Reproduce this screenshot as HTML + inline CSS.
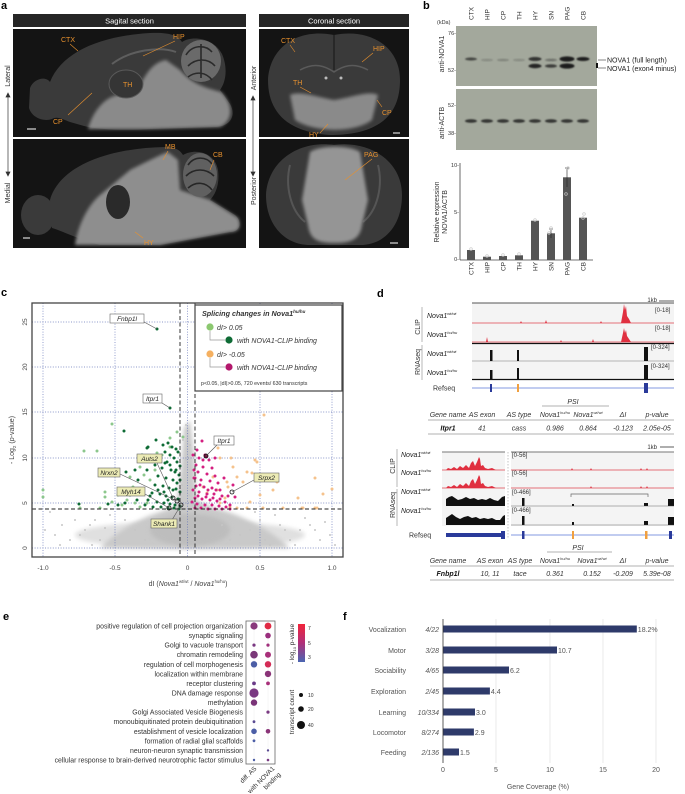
<!DOCTYPE html>
<html><head><meta charset="utf-8"><style>
html,body{margin:0;padding:0;background:#fff;}
svg{display:block;font-family:"Liberation Sans",Arial,sans-serif;}
</style></head><body>
<svg width="685" height="794" viewBox="0 0 685 794" xmlns="http://www.w3.org/2000/svg">
<defs>
<filter id="bl1" x="-50%" y="-50%" width="200%" height="200%"><feGaussianBlur stdDeviation="0.8"/></filter>
<filter id="bl2" x="-20%" y="-20%" width="140%" height="140%"><feGaussianBlur stdDeviation="2"/></filter>
<filter id="bl3" x="-20%" y="-20%" width="140%" height="140%"><feGaussianBlur stdDeviation="1.5"/></filter>
<linearGradient id="cb" x1="0" y1="0" x2="0" y2="1"><stop offset="0" stop-color="#f2243a"/><stop offset="0.5" stop-color="#b0307a"/><stop offset="1" stop-color="#4a66b2"/></linearGradient>
</defs>

<!-- ================= PANEL A ================= -->
<text x="1" y="9" font-size="11" font-weight="bold">a</text>
<rect x="13" y="14" width="233" height="13" fill="#262626"/>
<text x="129.5" y="23.5" font-size="7.5" fill="#fff" text-anchor="middle">Sagital section</text>
<rect x="259" y="14" width="150" height="13" fill="#262626"/>
<text x="334" y="23.5" font-size="7.5" fill="#fff" text-anchor="middle">Coronal section</text>
<rect x="13" y="29" width="233" height="108" fill="#141414"/>
<rect x="13" y="139" width="233" height="109" fill="#141414"/>
<rect x="259" y="29" width="150" height="108" fill="#141414"/>
<rect x="259" y="139" width="150" height="109" fill="#141414"/>

<!-- sagittal top -->
<path d="M30,88 C34,78 46,76 50,82 C62,52 100,36 150,33 C168,32 178,35 182,42 C192,35 214,38 222,54 C228,68 226,82 220,90 L230,104 C236,114 232,126 216,127 L150,129 C120,131 95,129 84,126 L70,122 C62,119 57,116 52,119 C44,122 32,118 29,108 Z" fill="#3a3a3a"/>
<path d="M88,129 C92,114 102,100 114,96 L138,90 C146,72 154,62 166,60 L180,70 C192,84 206,88 221,92 C233,104 234,120 220,127 L150,129 Z" fill="#8a8a8a" filter="url(#bl3)"/>
<ellipse cx="126" cy="84" rx="17" ry="14" fill="#353535" stroke="#5a5a5a" stroke-width="1"/>
<path d="M112,64 C130,50 160,46 176,52" stroke="#5e5e5e" fill="none" stroke-width="2"/>
<ellipse cx="201" cy="61" rx="20" ry="21" fill="#6a6a6a"/>
<path d="M186,55 C192,45 205,44 212,52 M188,66 C196,58 208,58 215,66 M188,77 C196,71 206,72 212,80 M201,44 L201,78" stroke="#2a2a2a" stroke-width="1.6" fill="none"/>
<!-- sagittal bottom -->
<ellipse cx="38" cy="215" rx="17" ry="20" fill="#3a3a3a"/>
<path d="M50,200 C60,165 110,148 165,147 C175,147 180,150 183,155 C195,148 215,152 218,170 C220,185 215,195 210,200 L235,215 C243,222 240,232 230,232 L160,245 L100,245 C80,240 65,232 52,228 Z" fill="#3a3a3a"/>
<path d="M75,245 C78,225 88,205 100,195 L130,170 C150,160 160,155 168,152 L178,160 L180,190 L210,200 L238,218 C242,228 238,232 230,232 L160,245 Z" fill="#8e8e8e" filter="url(#bl3)"/>
<ellipse cx="118" cy="202" rx="12" ry="17" fill="#2a2a2a"/>
<ellipse cx="200" cy="175" rx="17" ry="22" fill="#606060"/>
<path d="M188,165 C194,156 206,156 212,164 M186,176 C194,168 206,168 214,176 M188,188 C196,181 206,182 212,190" stroke="#262626" stroke-width="1.6" fill="none"/>
<!-- coronal top -->
<path d="M334,35 C300,28 270,45 268,80 C268,110 285,132 330,135 C385,135 400,110 400,80 C400,45 368,28 334,35 Z" fill="#3a3a3a"/>
<path d="M290,95 C300,90 320,98 334,100 C350,98 368,90 378,95 L372,120 C355,133 315,133 295,120 Z" fill="#8a8a8a" filter="url(#bl3)"/>
<path d="M300,70 C315,62 325,66 334,72 C343,66 353,62 368,70" stroke="#5a5a5a" stroke-width="1.5" fill="none"/>
<path d="M334,35 L334,70" stroke="#222" stroke-width="1.5"/>
<circle cx="326" cy="78" r="1.5" fill="#bbb"/><circle cx="341" cy="78" r="1.5" fill="#bbb"/>
<!-- coronal bottom -->
<path d="M334,145 C300,140 268,160 266,195 C266,225 285,245 310,245 L360,245 C385,245 402,225 402,195 C402,160 368,140 334,145 Z" fill="#3a3a3a"/>
<path d="M290,165 C285,185 290,210 305,222 M378,165 C383,185 378,210 363,222" stroke="#555" stroke-width="2" fill="none"/>
<path d="M310,152 C320,145 350,145 360,152 L368,200 L362,225 C360,240 350,243 335,243 C318,243 310,240 308,225 L302,200 Z" fill="#959595" filter="url(#bl3)"/>

<g font-size="7" fill="#e8912e">
<text x="61" y="42">CTX</text><text x="173" y="39">HIP</text><text x="123" y="87">TH</text><text x="53" y="124">CP</text>
<text x="165" y="149">MB</text><text x="213" y="157">CB</text><text x="144" y="245">HY</text>
<text x="281" y="43">CTX</text><text x="373" y="51">HIP</text><text x="293" y="85">TH</text><text x="382" y="115">CP</text><text x="309" y="137">HY</text>
<text x="364" y="157">PAG</text>
</g>
<g stroke="#e8912e" stroke-width="0.6">
<line x1="70" y1="44" x2="78" y2="51"/><line x1="175" y1="41" x2="143" y2="56"/><line x1="68" y1="115" x2="92" y2="93"/>
<line x1="168" y1="151" x2="163" y2="160"/><line x1="214" y1="160" x2="210" y2="170"/><line x1="143" y1="238" x2="135" y2="232"/>
<line x1="290" y1="45" x2="295" y2="52"/><line x1="373" y1="53" x2="362" y2="62"/><line x1="300" y1="87" x2="311" y2="93"/><line x1="382" y1="107" x2="377" y2="100"/><line x1="320" y1="133" x2="328" y2="124"/>
<line x1="372" y1="159" x2="345" y2="180"/>
</g>
<g stroke="#fff" stroke-width="1"><line x1="27" y1="129" x2="36" y2="129"/><line x1="23" y1="238" x2="30" y2="238"/><line x1="393" y1="133" x2="400" y2="133"/><line x1="390" y1="243" x2="398" y2="243"/></g>

<g font-size="7" fill="#333" text-anchor="middle">
<text transform="translate(10,76) rotate(-90)">Lateral</text>
<text transform="translate(10,193) rotate(-90)">Medial</text>
<text transform="translate(256,78) rotate(-90)">Anterior</text>
<text transform="translate(256,191) rotate(-90)">Posterior</text>
</g>
<g stroke="#333" stroke-width="0.7" fill="#333">
<line x1="8" y1="95" x2="8" y2="174"/><path d="M6,97 L8,93 L10,97Z M6,172 L8,176 L10,172Z"/>
<line x1="253" y1="98" x2="253" y2="174"/><path d="M251,100 L253,96 L255,100Z M251,172 L253,176 L255,172Z"/>
</g>

<!-- ================= PANEL B ================= -->
<text x="423" y="9" font-size="11" font-weight="bold">b</text>
<g font-size="6.5" fill="#333">
<text transform="translate(473.5,20) rotate(-90)">CTX</text>
<text transform="translate(489.5,20) rotate(-90)">HIP</text>
<text transform="translate(505.5,20) rotate(-90)">CP</text>
<text transform="translate(521.5,20) rotate(-90)">TH</text>
<text transform="translate(537.5,20) rotate(-90)">HY</text>
<text transform="translate(553.5,20) rotate(-90)">SN</text>
<text transform="translate(569.5,20) rotate(-90)">PAG</text>
<text transform="translate(585.5,20) rotate(-90)">CB</text>
</g>
<text x="437" y="24" font-size="5.5" fill="#333">(kDa)</text>
<g font-size="5.5" fill="#333" text-anchor="end">
<text x="456" y="35">76-</text><text x="456" y="72">52-</text><text x="456" y="107">52-</text><text x="456" y="135">38-</text>
</g>
<g font-size="7" fill="#333" text-anchor="middle">
<text transform="translate(444,54) rotate(-90)">anti-NOVA1</text>
<text transform="translate(444,123) rotate(-90)">anti-ACTB</text>
</g>
<rect x="456" y="26" width="141" height="60" fill="#a3a89c"/>
<rect x="456" y="89" width="141" height="61" fill="#a3a89c"/>
<g fill="#1e1e1e" filter="url(#bl1)">
<ellipse cx="471" cy="59" rx="6" ry="1.5" opacity="0.7"/>
<ellipse cx="487" cy="60" rx="6" ry="1" opacity="0.25"/>
<ellipse cx="503" cy="60" rx="6" ry="1" opacity="0.3"/>
<ellipse cx="519" cy="60" rx="6" ry="1" opacity="0.25"/>
<ellipse cx="535" cy="59" rx="6.5" ry="2" opacity="0.85"/>
<ellipse cx="535" cy="66" rx="6.5" ry="2.2" opacity="0.95"/>
<ellipse cx="551" cy="60" rx="6" ry="1.2" opacity="0.4"/>
<ellipse cx="551" cy="66" rx="6" ry="1.8" opacity="0.75"/>
<ellipse cx="567" cy="59" rx="7.5" ry="2.6"/>
<ellipse cx="567" cy="66" rx="7.5" ry="2.6"/>
<ellipse cx="583" cy="59" rx="6.5" ry="2"/>
<ellipse cx="471" cy="121" rx="6" ry="1.8" opacity="0.85"/>
<ellipse cx="487" cy="121" rx="6" ry="1.8" opacity="0.85"/>
<ellipse cx="503" cy="121" rx="6" ry="1.8" opacity="0.85"/>
<ellipse cx="519" cy="121" rx="6" ry="1.8" opacity="0.85"/>
<ellipse cx="535" cy="121" rx="6" ry="1.8" opacity="0.85"/>
<ellipse cx="551" cy="121" rx="6" ry="1.8" opacity="0.85"/>
<ellipse cx="567" cy="121" rx="6" ry="1.8" opacity="0.85"/>
<ellipse cx="583" cy="121" rx="6" ry="1.8" opacity="0.85"/>
</g>
<g stroke="#333" stroke-width="0.6"><line x1="598" y1="60" x2="606" y2="60"/><line x1="598" y1="68" x2="606" y2="68"/></g>
<rect x="596" y="63" width="2" height="5" fill="#111"/>
<g font-size="7" fill="#222"><text x="607" y="62.5">NOVA1 (full length)</text><text x="607" y="71">NOVA1 (exon4 minus)</text></g>

<!-- bar chart -->
<line x1="460" y1="163" x2="460" y2="260" stroke="#444" stroke-width="0.8"/>
<line x1="460" y1="260" x2="593" y2="260" stroke="#444" stroke-width="0.8"/>
<g font-size="5.5" fill="#333" text-anchor="end"><text x="459" y="167">10-</text><text x="459" y="214">5-</text><text x="459" y="261">0-</text></g>
<g font-size="7" fill="#333" text-anchor="middle">
<text transform="translate(439,212) rotate(-90)">Relative expression</text>
<text transform="translate(447,212) rotate(-90)">NOVA1/ACTB</text>
</g>
<g fill="#555">
<rect x="467" y="250" width="8" height="10"/>
<rect x="483" y="256.7" width="8" height="3.3"/>
<rect x="499" y="256" width="8" height="4"/>
<rect x="515" y="255.3" width="8" height="4.7"/>
<rect x="531" y="220.7" width="8" height="39.3"/>
<rect x="547" y="233.3" width="8" height="26.7"/>
<rect x="563" y="177.3" width="8" height="82.7"/>
<rect x="579" y="217.7" width="8" height="42.3"/>
</g>
<g stroke="#222" stroke-width="0.6"><line x1="567" y1="168" x2="567" y2="187"/><line x1="565" y1="168" x2="569" y2="168"/><line x1="551" y1="229" x2="551" y2="238"/><line x1="549" y1="229" x2="553" y2="229"/></g>
<g fill="none" stroke="#c8c8c8" stroke-width="0.7">
<circle cx="471" cy="249" r="1.3"/><circle cx="487" cy="256" r="1.3"/><circle cx="503" cy="255" r="1.3"/><circle cx="519" cy="254" r="1.3"/>
<circle cx="535" cy="220" r="1.3"/><circle cx="551" cy="228" r="1.3"/><circle cx="549" cy="233" r="1.3"/><circle cx="568" cy="168" r="1.3"/><circle cx="566" cy="194" r="1.3"/><circle cx="584" cy="214" r="1.3"/><circle cx="583" cy="218" r="1.3"/>
</g>
<g font-size="6.5" fill="#333" text-anchor="end">
<text transform="translate(473.5,262) rotate(-90)">CTX</text>
<text transform="translate(489.5,262) rotate(-90)">HIP</text>
<text transform="translate(505.5,262) rotate(-90)">CP</text>
<text transform="translate(521.5,262) rotate(-90)">TH</text>
<text transform="translate(537.5,262) rotate(-90)">HY</text>
<text transform="translate(553.5,262) rotate(-90)">SN</text>
<text transform="translate(569.5,262) rotate(-90)">PAG</text>
<text transform="translate(585.5,262) rotate(-90)">CB</text>
</g>

<!-- ================= PANEL C ================= -->
<text x="1" y="296" font-size="11" font-weight="bold">c</text>
<ellipse cx="190" cy="535" rx="115" ry="14" fill="#e0e0e0" filter="url(#bl2)"/>
<path d="M100,548 C115,532 140,518 160,512 L176,506 L181,470 L184,428 L190,420 L194,455 L196,500 L214,508 C240,514 268,528 290,548 Z" fill="#c9c9c9" filter="url(#bl2)"/>
<ellipse cx="190" cy="530" rx="40" ry="16" fill="#bdbdbd" filter="url(#bl2)"/>
<g stroke="#6676b8" stroke-width="0.7" stroke-dasharray="1,1.6">
<line x1="43" y1="303" x2="43" y2="557"/><line x1="115" y1="303" x2="115" y2="557"/><line x1="187.5" y1="303" x2="187.5" y2="557"/><line x1="260" y1="303" x2="260" y2="557"/><line x1="332" y1="303" x2="332" y2="557"/>
<line x1="32" y1="548" x2="343" y2="548"/><line x1="32" y1="503" x2="343" y2="503"/><line x1="32" y1="458" x2="343" y2="458"/><line x1="32" y1="412" x2="343" y2="412"/><line x1="32" y1="367" x2="343" y2="367"/><line x1="32" y1="322" x2="343" y2="322"/>
</g>
<path d="M50,512h0M55,535h0M62,525h0M70,540h0M85,530h0M95,520h0M100,540h0M110,515h0M92,545h0M290,540h0M300,530h0M310,525h0M320,540h0M330,535h0M280,525h0M275,515h0M265,540h0M255,512h0M240,535h0M45,530h0M60,545h0M75,520h0M80,535h0M90,525h0M105,528h0M115,538h0M125,520h0M250,530h0M260,520h0M270,545h0M285,530h0M295,545h0M305,518h0M315,530h0M325,522h0M335,545h0M186,425h0M183,440h0M190,445h0M186,460h0M192,470h0M182,485h0M189,495h0M135,530h0M145,540h0M230,540h0M222,525h0" stroke="#c6c6c6" stroke-width="2" stroke-linecap="round" fill="none"/>
<path d="M112,424h0M84,451h0M97,451h0M43,490h0M43,497h0M105,492h0M105,497h0M80,508h0M100,508h0M140,507h0M147,503h0M127,500h0M140,493h0M150,480h0M140,467h0M130,477h0M118,495h0M112,502h0M177,432h0M183,437h0M170,447h0M157,453h0M133,487h0M122,505h0M135,503h0M155,470h0M162,455h0M170,438h0M144,475h0M120,490h0" stroke="#8cc78c" stroke-width="3" stroke-linecap="round" fill="none"/>
<path d="M157,329h0M170,408h0M124,431h0M79,504h0M108,504h0M126,472h0M163,445h0M168,443h0M172,447h0M176,449h0M178,452h0M165,452h0M170,455h0M174,458h0M160,460h0M167,462h0M177,462h0M180,466h0M162,468h0M171,470h0M175,472h0M179,475h0M158,476h0M166,478h0M173,480h0M177,483h0M155,485h0M163,486h0M169,488h0M176,489h0M180,492h0M152,493h0M160,494h0M166,496h0M172,497h0M178,499h0M148,500h0M157,502h0M164,503h0M170,504h0M175,505h0M180,506h0M145,505h0M153,507h0M161,507h0M168,508h0M174,508h0M179,509h0M150,496h0M143,490h0M138,480h0M147,470h0M155,465h0M150,458h0M142,455h0M156,440h0M148,447h0M135,470h0M130,495h0M125,503h0M118,505h0M137,500h0M170,465h0M173,490h0M164,492h0M180,480h0M176,470h0M168,500h0M158,490h0M147,448h0M165,463h0" stroke="#0e6b35" stroke-width="3" stroke-linecap="round" fill="none"/>
<path d="M264,415h0M218,448h0M231,458h0M255,460h0M252,473h0M315,478h0M332,489h0M323,494h0M298,498h0M283,508h0M303,508h0M315,508h0M220,458h0M257,462h0M247,472h0M237,477h0M243,482h0M228,487h0M260,495h0M277,482h0M273,490h0M317,508h0M302,508h0M250,502h0M237,508h0M225,498h0M217,490h0M213,477h0M263,508h0M247,508h0M230,507h0M220,503h0M207,493h0M203,487h0M233,467h0M227,482h0" stroke="#f5c28c" stroke-width="3" stroke-linecap="round" fill="none"/>
<path d="M197,450h0M202,441h0M205,455h0M199,458h0M209,460h0M196,465h0M203,467h0M212,468h0M198,472h0M207,474h0M215,476h0M195,478h0M201,480h0M210,481h0M218,483h0M196,486h0M204,487h0M212,488h0M220,490h0M199,492h0M207,494h0M214,494h0M222,496h0M195,498h0M202,499h0M210,500h0M217,501h0M225,502h0M197,504h0M205,505h0M212,505h0M219,506h0M226,507h0M195,508h0M201,508h0M208,509h0M215,509h0M222,509h0M230,505h0M228,496h0M233,485h0M224,478h0M193,455h0M194,470h0M200,485h0M208,490h0M216,490h0M198,496h0M206,497h0M213,498h0M220,499h0M203,460h0M230,509h0M235,497h0M215,458h0M192,502h0M193,490h0M194,478h0" stroke="#d41f80" stroke-width="3" stroke-linecap="round" fill="none"/>
<g stroke="#222" stroke-width="0.9" stroke-dasharray="4,2.5">
<line x1="180" y1="303" x2="180" y2="557"/><line x1="195" y1="303" x2="195" y2="557"/><line x1="32" y1="509" x2="343" y2="509"/>
</g>
<g fill="none" stroke="#111" stroke-width="0.8">
<circle cx="206" cy="456" r="2" fill="#7a1040"/><circle cx="232" cy="492" r="2"/><circle cx="173" cy="498" r="2"/><circle cx="177" cy="501" r="2"/><circle cx="181" cy="505" r="2"/><circle cx="169" cy="508" r="2"/>
</g>
<g stroke="#555" stroke-width="0.6">
<line x1="144" y1="322" x2="157" y2="329"/><line x1="162" y1="403" x2="170" y2="408"/><line x1="217" y1="445" x2="206" y2="456"/>
<line x1="157" y1="463" x2="173" y2="498"/><line x1="120" y1="474" x2="177" y2="501"/><line x1="145" y1="494" x2="169" y2="508"/><line x1="172" y1="520" x2="181" y2="505"/><line x1="254" y1="480" x2="232" y2="492"/>
</g>
<g stroke="#666" stroke-width="0.6">
<rect x="110" y="314" width="34" height="9" fill="#fff"/>
<rect x="143" y="394" width="19" height="9" fill="#fff"/>
<rect x="214" y="436" width="20" height="9" fill="#fff"/>
<rect x="137" y="454" width="25" height="9" fill="#ecebb5"/>
<rect x="98" y="468" width="22" height="9" fill="#ecebb5"/>
<rect x="117" y="487" width="28" height="9" fill="#ecebb5"/>
<rect x="151" y="519" width="26" height="9" fill="#ecebb5"/>
<rect x="254" y="473" width="25" height="9" fill="#ecebb5"/>
</g>
<g font-size="6.5" font-style="italic" fill="#222" text-anchor="middle">
<text x="127" y="321">Fnbp1l</text><text x="152.5" y="401">Itpr1</text><text x="224" y="443">Itpr1</text>
<text x="149.5" y="461">Auts2</text><text x="109" y="475">Nrxn2</text><text x="131" y="494">Myh14</text><text x="164" y="526">Shank1</text><text x="266.5" y="480">Srpx2</text>
</g>
<rect x="32" y="303" width="311" height="254" fill="none" stroke="#444" stroke-width="1.3"/>
<!-- legend -->
<rect x="195" y="305" width="147" height="86" fill="#fff" stroke="#444" stroke-width="1.2"/>
<text x="202" y="316" font-size="7.2" font-weight="bold" font-style="italic" fill="#333">Splicing changes in Nova1<tspan font-size="4.5" dy="-3">hu/hu</tspan></text>
<path d="M210,331 V340 H225 M210,358 V367 H225" stroke="#999" stroke-width="0.7" fill="none"/>
<circle cx="210" cy="327" r="3.6" fill="#8cc870"/><circle cx="229" cy="340" r="3.6" fill="#0e6b35"/>
<circle cx="210" cy="354" r="3.6" fill="#f5b060"/><circle cx="229" cy="367" r="3.6" fill="#b3186c"/>
<g font-size="7" font-style="italic" fill="#333">
<text x="217" y="330">dI&gt; 0.05</text><text x="237" y="343">with NOVA1-CLIP binding</text>
<text x="217" y="357">dI&gt; -0.05</text><text x="237" y="370">with NOVA1-CLIP binding</text>
</g>
<text x="201" y="385" font-size="5.3" fill="#333">p&lt;0.05, |dI|&gt;0.05, 720 events/ 630 transcripts</text>
<!-- axes labels -->
<g font-size="6.5" fill="#444" text-anchor="middle">
<text transform="translate(27,548) rotate(-90)">0</text><text transform="translate(27,503) rotate(-90)">5</text><text transform="translate(27,458) rotate(-90)">10</text><text transform="translate(27,412) rotate(-90)">15</text><text transform="translate(27,367) rotate(-90)">20</text><text transform="translate(27,322) rotate(-90)">25</text>
<text x="43" y="570">-1.0</text><text x="115" y="570">-0.5</text><text x="187.5" y="570">0</text><text x="260" y="570">0.5</text><text x="332" y="570">1.0</text>
</g>
<text transform="translate(14,440) rotate(-90)" font-size="7" fill="#444" text-anchor="middle">- Log<tspan font-size="4.5" dy="2">2</tspan><tspan dy="-2"> (</tspan><tspan font-style="italic">p</tspan>-value)</text>
<text x="188" y="586" font-size="7" fill="#444" text-anchor="middle">dI (<tspan font-style="italic">Nova1</tspan><tspan font-size="4.2" dy="-3">wt/wt</tspan><tspan dy="3"> / </tspan><tspan font-style="italic">Nova1</tspan><tspan font-size="4.2" dy="-3">hu/hu</tspan><tspan dy="3">)</tspan></text>

<!-- ================= PANEL D ================= -->
<text x="377" y="297" font-size="11" font-weight="bold">d</text>
<!-- top gene -->
<text x="657" y="302" font-size="6" fill="#333" text-anchor="end">1kb</text>
<line x1="659" y1="301" x2="674" y2="301" stroke="#333" stroke-width="0.8"/>
<rect x="472" y="303" width="202" height="77" fill="#f4f4f4"/>
<line x1="472" y1="303" x2="674" y2="303" stroke="#555" stroke-width="1"/>
<g stroke="#e04450" stroke-width="0.8"><line x1="472" y1="323" x2="674" y2="323"/><line x1="472" y1="342" x2="674" y2="342"/></g>
<g fill="#e03040">
<path d="M621,323 L623,312 L624,304 L625,310 L626,306 L627,316 L629,319 L631,323Z"/>
<path d="M621,342 L623,333 L624,328 L625,333 L626,330 L627,336 L629,339 L631,342Z"/>
<path d="M486,342 L487,337 L488,342Z M545,323 L546,320 L547,323Z M520,323 L521,321 L522,323Z M600,323 L601,321 L602,323Z M592,342 L593,339 L594,342Z M560,342 L561,340 L562,342Z"/>
</g>
<line x1="472" y1="343.5" x2="674" y2="343.5" stroke="#111" stroke-width="1.2"/>
<line x1="472" y1="361" x2="674" y2="361" stroke="#777" stroke-width="0.5"/>
<line x1="472" y1="379.5" x2="674" y2="379.5" stroke="#111" stroke-width="1.2"/>
<g fill="#111">
<rect x="490" y="350" width="2.5" height="11"/><rect x="517" y="350" width="2" height="11"/><rect x="644" y="347" width="4" height="14"/>
<rect x="490" y="370" width="2.5" height="9"/><rect x="517" y="368" width="2" height="11"/><rect x="644" y="365" width="4" height="14"/>
</g>
<g font-size="6" fill="#333"><text x="655" y="312">[0-18]</text><text x="655" y="330">[0-18]</text><text x="651" y="349">[0-324]</text><text x="651" y="368">[0-324]</text></g>
<g font-size="7" font-style="italic" fill="#222">
<text x="427" y="318">Nova1<tspan font-size="4" dy="-3">wt/wt</tspan></text>
<text x="427" y="337">Nova1<tspan font-size="4" dy="-3">hu/hu</tspan></text>
<text x="427" y="356">Nova1<tspan font-size="4" dy="-3">wt/wt</tspan></text>
<text x="427" y="375">Nova1<tspan font-size="4" dy="-3">hu/hu</tspan></text>
</g>
<g font-size="7" fill="#333" text-anchor="middle"><text transform="translate(420,327) rotate(-90)">CLIP</text><text transform="translate(420,362) rotate(-90)">RNAseq</text></g>
<g stroke="#999" stroke-width="0.7"><line x1="422" y1="307" x2="422" y2="342"/><line x1="422" y1="345" x2="422" y2="380"/></g>
<text x="433" y="390.5" font-size="7" fill="#333">Refseq</text>
<line x1="472" y1="388" x2="674" y2="388" stroke="#5a78d8" stroke-width="0.8"/>
<g fill="#2a3a9a"><rect x="490" y="384" width="2" height="8"/><rect x="644" y="383" width="4" height="10"/></g>
<rect x="517" y="384" width="2" height="8" fill="#f0a040"/>
<g font-size="7" font-style="italic" fill="#333" text-anchor="middle">
<text x="573" y="404">PSI</text>
<text x="448" y="417">Gene name</text><text x="482" y="417">AS exon</text><text x="519" y="417">AS type</text>
<text x="555" y="417">Nova1<tspan font-size="4" dy="-3">hu/hu</tspan></text><text x="588" y="417">Nova1<tspan font-size="4" dy="-3">wt/wt</tspan></text>
<text x="623" y="417">ΔI</text><text x="657" y="417">p-value</text>
<text x="448" y="430.5" font-weight="bold" fill="#111">Itpr1</text><text x="482" y="430.5">41</text><text x="519" y="430.5">cass</text><text x="555" y="430.5">0.986</text><text x="588" y="430.5">0.864</text><text x="623" y="430.5">-0.123</text><text x="657" y="430.5">2.05e-05</text>
</g>
<g stroke="#666" stroke-width="0.6"><line x1="542" y1="406" x2="609" y2="406"/><line x1="428" y1="420" x2="674" y2="420"/><line x1="428" y1="434" x2="674" y2="434"/></g>

<!-- bottom gene -->
<text x="657" y="449" font-size="6" fill="#333" text-anchor="end">1kb</text>
<line x1="660" y1="447" x2="674" y2="447" stroke="#333" stroke-width="0.8"/>
<rect x="442" y="452" width="63" height="74" fill="#f4f4f4"/>
<rect x="511" y="452" width="163" height="74" fill="#f4f4f4"/>
<g stroke="#777" stroke-width="1"><line x1="442" y1="452" x2="505" y2="452"/><line x1="511" y1="452" x2="674" y2="452"/></g>
<line x1="508" y1="452" x2="508" y2="538" stroke="#aaa" stroke-width="0.7" stroke-dasharray="1.5,1.5"/>
<g stroke="#e04450" stroke-width="0.8"><line x1="442" y1="470" x2="505" y2="470"/><line x1="511" y1="470" x2="674" y2="470"/><line x1="442" y1="488" x2="505" y2="488"/><line x1="511" y1="488" x2="674" y2="488"/></g>
<g fill="#e03040">
<path d="M446,470 L448,468 L451,469 L454,467 L457,469 L460,466 L463,468 L466,465 L469,468 L471,463 L473,461 L475,466 L477,462 L479,457 L480,459 L481,466 L483,465 L485,468 L488,469 L492,468 L496,470Z"/>
<path d="M446,488 L448,486 L451,487 L454,485 L457,487 L460,484 L463,486 L466,483 L469,486 L471,481 L473,479 L475,484 L477,480 L479,475 L480,477 L481,484 L483,483 L485,486 L488,487 L492,486 L496,488Z"/>
<path d="M571,470 L572,468 L573,470Z M590,470 L591,468 L592,470Z M640,470 L641,468 L642,470Z M646,470 L647,468 L648,470Z M640,488 L641,486 L642,488Z M646,488 L647,486 L648,488Z M590,488 L591,486 L592,488Z"/>
</g>
<g fill="#111">
<path d="M446,506 L446,499 L449,497 L452,496 L455,498 L458,500 L462,499 L466,497 L470,499 L474,498 L478,500 L482,499 L486,500 L490,498 L494,500 L498,501 L502,497 L505,496 L505,506Z"/>
<path d="M446,525 L446,518 L449,516 L452,514 L456,517 L460,519 L464,517 L468,516 L472,518 L476,517 L480,519 L484,518 L488,519 L492,518 L496,520 L500,520 L503,516 L505,515 L505,525Z"/>
<rect x="522" y="498" width="2.5" height="8"/><rect x="572" y="504" width="2" height="2"/><rect x="644" y="503" width="4" height="3"/><rect x="668" y="499" width="6" height="7"/>
<rect x="522" y="516" width="2.5" height="9"/><rect x="572" y="522" width="2" height="3"/><rect x="644" y="521" width="4" height="4"/><rect x="668" y="517" width="6" height="8"/>
</g>
<g stroke="#444" stroke-width="0.4"><line x1="511" y1="506" x2="674" y2="506"/><line x1="511" y1="525" x2="674" y2="525"/></g>
<path d="M571,497 V494 H648 V497" stroke="#666" stroke-width="0.7" fill="none"/>
<g font-size="6" fill="#333"><text x="512" y="457">[0-56]</text><text x="512" y="475">[0-56]</text><text x="512" y="494">[0-466]</text><text x="512" y="512">[0-466]</text></g>
<g font-size="7" font-style="italic" fill="#222">
<text x="401" y="457">Nova1<tspan font-size="4" dy="-3">wt/wt</tspan></text>
<text x="401" y="475">Nova1<tspan font-size="4" dy="-3">hu/hu</tspan></text>
<text x="401" y="494">Nova1<tspan font-size="4" dy="-3">wt/wt</tspan></text>
<text x="401" y="513">Nova1<tspan font-size="4" dy="-3">hu/hu</tspan></text>
</g>
<g font-size="7" fill="#333" text-anchor="middle"><text transform="translate(395,466) rotate(-90)">CLIP</text><text transform="translate(395,505) rotate(-90)">RNAseq</text></g>
<g stroke="#999" stroke-width="0.7"><line x1="397" y1="449" x2="397" y2="487"/><line x1="397" y1="489" x2="397" y2="526"/></g>
<text x="409" y="537.5" font-size="7" fill="#333">Refseq</text>
<rect x="446" y="533" width="58" height="4" fill="#2a3a9a"/><rect x="501" y="531" width="4" height="8" fill="#2a3a9a"/>
<line x1="511" y1="535" x2="674" y2="535" stroke="#5a78d8" stroke-width="0.8"/>
<g fill="#2a3a9a"><rect x="522" y="531" width="2.5" height="8"/><rect x="669" y="531" width="3" height="8"/></g>
<g fill="#f0a040"><rect x="572" y="531" width="2" height="8"/><rect x="645" y="531" width="2.5" height="8"/></g>
<g font-size="7" font-style="italic" fill="#333" text-anchor="middle">
<text x="578" y="550">PSI</text>
<text x="448" y="563">Gene name</text><text x="490" y="563">AS exon</text><text x="520" y="563">AS type</text>
<text x="555" y="563">Nova1<tspan font-size="4" dy="-3">hu/hu</tspan></text><text x="592" y="563">Nova1<tspan font-size="4" dy="-3">wt/wt</tspan></text>
<text x="623" y="563">ΔI</text><text x="657" y="563">p-value</text>
<text x="448" y="576" font-weight="bold" fill="#111">Fnbp1l</text><text x="490" y="576">10, 11</text><text x="520" y="576">tace</text><text x="555" y="576">0.361</text><text x="592" y="576">0.152</text><text x="623" y="576">-0.209</text><text x="657" y="576">5.39e-08</text>
</g>
<g stroke="#666" stroke-width="0.6"><line x1="547" y1="552" x2="612" y2="552"/><line x1="430" y1="566" x2="674" y2="566"/><line x1="430" y1="580" x2="674" y2="580"/></g>

<!-- ================= PANEL E ================= -->
<text x="3" y="620" font-size="11" font-weight="bold">e</text>
<g stroke="#eee" stroke-width="0.5">
<line x1="254" y1="621" x2="254" y2="764"/><line x1="268" y1="621" x2="268" y2="764"/>
</g>
<rect x="246" y="621" width="29" height="143" fill="none" stroke="#666" stroke-width="0.8"/>
<g font-size="6.9" fill="#333" text-anchor="end">
<text x="243" y="628.5">positive regulation of cell projection organization</text>
<text x="243" y="638">synaptic signaling</text>
<text x="243" y="647.6">Golgi to vacuole transport</text>
<text x="243" y="657.2">chromatin remodeling</text>
<text x="243" y="666.8">regulation of cell morphogenesis</text>
<text x="243" y="676.4">localization within membrane</text>
<text x="243" y="685.9">receptor clustering</text>
<text x="243" y="695.5">DNA damage response</text>
<text x="243" y="705.1">methylation</text>
<text x="243" y="714.6">Golgi Associated Vesicle Biogenesis</text>
<text x="243" y="724.2">monoubiquitinated protein deubiquitination</text>
<text x="243" y="733.8">establishment of vesicle localization</text>
<text x="243" y="743.3">formation of radial glial scaffolds</text>
<text x="243" y="752.9">neuron-neuron synaptic transmission</text>
<text x="243" y="762.5">cellular response to brain-derived neurotrophic factor stimulus</text>
</g>
<g>
<circle cx="254" cy="626" r="3.6" fill="#8a3a7c"/><circle cx="268" cy="626" r="3.4" fill="#e02a44"/>
<circle cx="268" cy="635.6" r="2.8" fill="#9a2f7e"/>
<circle cx="254" cy="645.1" r="1.6" fill="#7a3882"/><circle cx="268" cy="645.1" r="1.6" fill="#a0307c"/>
<circle cx="254" cy="654.7" r="3.8" fill="#7a3878"/><circle cx="268" cy="654.7" r="3" fill="#a8307a"/>
<circle cx="254" cy="664.3" r="3.2" fill="#4c5ea6"/><circle cx="268" cy="664.3" r="3.2" fill="#d42c56"/>
<circle cx="268" cy="673.9" r="3.2" fill="#8a3478"/>
<circle cx="254" cy="683.4" r="1.9" fill="#6a3a88"/><circle cx="268" cy="683.4" r="1.9" fill="#a8307a"/>
<circle cx="254" cy="693" r="4.6" fill="#7a3882"/>
<circle cx="254" cy="702.6" r="3.2" fill="#7a3478"/>
<circle cx="268" cy="712.1" r="1.6" fill="#7a3a82"/>
<circle cx="254" cy="721.7" r="1.4" fill="#5a4a92"/>
<circle cx="254" cy="731.3" r="2.8" fill="#4c5ea6"/><circle cx="268" cy="731.3" r="2.3" fill="#8a3478"/>
<circle cx="254" cy="740.8" r="1.4" fill="#4c5ea6"/>
<circle cx="268" cy="750.4" r="1.2" fill="#5a4a92"/>
<circle cx="254" cy="760" r="1.2" fill="#4c5ea6"/><circle cx="268" cy="760" r="1.3" fill="#7a3a82"/>
</g>
<g font-size="6.5" fill="#333" text-anchor="end">
<text transform="translate(257,769) rotate(-45)">diff. AS</text>
<text transform="translate(275,769) rotate(-45)">with NOVA1</text>
<text transform="translate(281,775) rotate(-45)">binding</text>
</g>
<text transform="translate(294,644) rotate(-90)" font-size="6.5" fill="#333" text-anchor="middle">- log<tspan font-size="4" dy="2">10</tspan><tspan dy="-2"> p-value</tspan></text>
<rect x="298" y="624" width="7" height="38" fill="url(#cb)"/>
<g font-size="5" fill="#333"><text x="308" y="630">7</text><text x="308" y="645">5</text><text x="308" y="659">3</text></g>
<text transform="translate(294,712) rotate(-90)" font-size="6.5" fill="#333" text-anchor="middle">transcript count</text>
<circle cx="301" cy="695" r="2" fill="#111"/><circle cx="301" cy="709" r="2.8" fill="#111"/><circle cx="301" cy="725" r="4" fill="#111"/>
<g font-size="5" fill="#333"><text x="308" y="697">10</text><text x="308" y="711">20</text><text x="308" y="727">40</text></g>

<!-- ================= PANEL F ================= -->
<text x="343" y="620" font-size="11" font-weight="bold">f</text>
<g stroke="#e2e2e2" stroke-width="0.7">
<line x1="496" y1="619" x2="496" y2="763"/><line x1="550" y1="619" x2="550" y2="763"/><line x1="603" y1="619" x2="603" y2="763"/><line x1="656" y1="619" x2="656" y2="763"/>
</g>
<g fill="#2e3a6a">
<rect x="443" y="625.5" width="193.8" height="7"/>
<rect x="443" y="646.5" width="114" height="7"/>
<rect x="443" y="666.5" width="66" height="7"/>
<rect x="443" y="687.5" width="46.9" height="7"/>
<rect x="443" y="708.5" width="32" height="7"/>
<rect x="443" y="728.5" width="30.9" height="7"/>
<rect x="443" y="748.5" width="16" height="7"/>
</g>
<line x1="443" y1="619" x2="443" y2="763" stroke="#333" stroke-width="0.8"/>
<g font-size="7" fill="#555">
<text x="637.8" y="632">18.2%</text><text x="558" y="653">10.7</text><text x="510" y="673">6.2</text><text x="490.9" y="694">4.4</text><text x="476" y="715">3.0</text><text x="474.9" y="735">2.9</text><text x="460" y="755">1.5</text>
</g>
<g font-size="7" fill="#555" text-anchor="end">
<text x="406" y="632">Vocalization</text><text x="406" y="653">Motor</text><text x="406" y="673">Sociability</text><text x="406" y="694">Exploration</text><text x="406" y="715">Learning</text><text x="406" y="735">Locomotor</text><text x="406" y="755">Feeding</text>
</g>
<g font-size="7" fill="#555" text-anchor="end" font-style="italic">
<text x="439" y="632">4/22</text><text x="439" y="653">3/28</text><text x="439" y="673">4/65</text><text x="439" y="694">2/45</text><text x="439" y="715">10/334</text><text x="439" y="735">8/274</text><text x="439" y="755">2/136</text>
</g>
<g font-size="7" fill="#555" text-anchor="middle">
<text x="443" y="772">0</text><text x="496" y="772">5</text><text x="550" y="772">10</text><text x="603" y="772">15</text><text x="656" y="772">20</text>
<text x="538" y="789">Gene Coverage (%)</text>
</g>
</svg>
</body></html>
